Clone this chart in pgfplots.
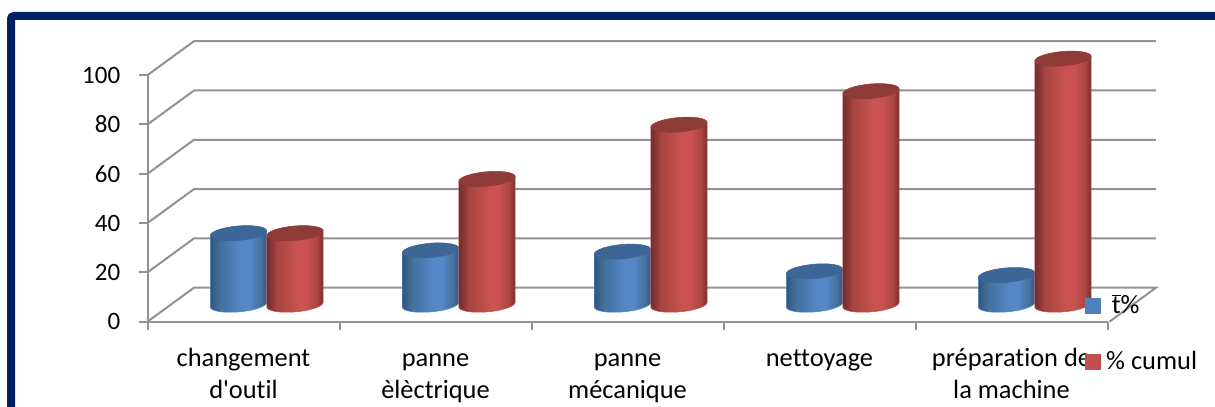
\documentclass[border=0pt]{standalone}
\usepackage{fontspec}
\setmainfont[Ligatures=NoCommon]{Carlito}
\usepackage{pgfplots}
\pgfplotsset{compat=1.18}

\definecolor{framenavy}{HTML}{002060}
\definecolor{axisgray}{HTML}{929292}
\definecolor{serieblue}{HTML}{4F81BD}
\definecolor{seriered}{HTML}{C0504D}
\definecolor{topblue}{HTML}{3D6595}
\definecolor{topred}{HTML}{8E3B39}
\definecolor{B1}{HTML}{5587C9}
\definecolor{B2}{HTML}{44709F}
\definecolor{B3}{HTML}{30567F}
\definecolor{R1}{HTML}{C95350}
\definecolor{R2}{HTML}{A8453F}
\definecolor{R3}{HTML}{722B2A}

\pgfdeclarehorizontalshading{cylblue}{100bp}{
  color(0bp)=(B3);color(25bp)=(B3);
  color(34bp)=(B2);color(52bp)=(B1);color(60bp)=(B1);
  color(70bp)=(B2);color(75bp)=(B3);color(100bp)=(B3)}
\pgfdeclarehorizontalshading{cylred}{100bp}{
  color(0bp)=(R3);color(25bp)=(R3);
  color(34bp)=(R2);color(52bp)=(R1);color(60bp)=(R1);
  color(70bp)=(R2);color(75bp)=(R3);color(100bp)=(R3)}

% One pixel of the 1215 x 407 canvas
\newcommand{\pxu}{0.75pt}
\newcommand{\unitpx}{2.465}% pixels per percentage point on the value axis
\newcommand{\labelfont}{\fontsize{19.8}{24}\selectfont}

% A tilted cylinder whose top is at the plotted point and whose height is the value
\newcommand{\declarecylinder}[4]{%
  \pgfdeclareplotmark{#1}{%
    \pgfmathsetmacro{\cylH}{\barval*\unitpx}%
    \begin{scope}[x=\pxu,y=\pxu]
      \shade[shading=#3]
        ({#2-28.19},-2.47) -- ({#2-28.19},{-2.47-\cylH})
        .. controls ({#2-27.85},{-6.43-\cylH}) and ({#2-14.94},{-8.53-\cylH}) .. ({#2+0.63},{-7.17-\cylH})
        .. controls ({#2+16.2},{-5.81-\cylH}) and ({#2+28.54},{-1.49-\cylH}) .. ({#2+28.19},{2.47-\cylH})
        -- ({#2+28.19},2.47) -- cycle;
      \fill[#4]
        ({#2-28.19},-2.47)
        .. controls ({#2-27.85},-6.43) and ({#2-14.94},-8.53) .. ({#2+0.63},-7.17)
        .. controls ({#2+16.2},-5.81) and ({#2+28.54},-1.49) .. ({#2+28.19},2.47)
        .. controls ({#2+27.85},6.43) and ({#2+14.94},8.53) .. ({#2-0.63},7.17)
        .. controls ({#2-16.2},5.81) and ({#2-28.54},1.49) .. cycle;
    \end{scope}}}
\declarecylinder{cylinderblue}{-28.25}{cylblue}{topblue}
\declarecylinder{cylinderred}{28.25}{cylred}{topred}

\begin{document}
\begin{tikzpicture}[x=\pxu,y=\pxu]
  \useasboundingbox (0,0) rectangle (1215,407);
  \fill[white] (0,0) rectangle (1215,407);
  \draw[framenavy,line width=8*\pxu,rounded corners=3*\pxu] (11,0) -- (11,391) -- (1215,391);

  % Front plane: value axis, category axis and the receding wall and floor lines
  \begin{axis}[
    at={(110.625pt,64pt)}, anchor=south west,
    scale only axis, width=960*\pxu, height=246.5*\pxu,
    xmin=0, xmax=5, ymin=0, ymax=100, clip=false,
    axis x line*=bottom, axis y line*=left,
    axis line style={axisgray,line width=2*\pxu,-},
    tick style={axisgray,line width=2*\pxu},
    tick align=outside, major tick length=8*\pxu,
    xtick={0,1,2,3,4,5}, xticklabels={},
    ytick={0,20,40,60,80,100},
    /pgf/number format/assume math mode=true,
    yticklabel style={font=\fontsize{18.75}{24}\selectfont,inner sep=0pt,xshift=-19*\pxu},
    extra x ticks={0.5,1.5,2.5,3.5,4.5},
    extra x tick labels={\strut changement\\d\textquotesingle outil,\strut panne\\èlèctrique,\strut panne\\mécanique,\strut nettoyage,\strut préparation de\\la machine},
    extra x tick style={
      major tick length=0pt,
      xticklabel style={font=\labelfont,align=center,anchor=north,
        inner sep=0pt,yshift=-22*\pxu}},
  ]
    \addplot[axisgray,line width=2*\pxu,unbounded coords=jump] coordinates {
      (0,0) (0.2422,13.79) (5.2526,13.79) (5.0104,0) (nan,nan)
      (0,20) (0.2422,33.79) (5.2526,33.79) (nan,nan)
      (0,40) (0.2422,53.79) (5.2526,53.79) (nan,nan)
      (0,60) (0.2422,73.79) (5.2526,73.79) (nan,nan)
      (0,80) (0.2422,93.79) (5.2526,93.79) (nan,nan)
      (0,100) (0.2422,113.79) (5.2526,113.79)
    };
  \end{axis}

  % Mid-depth plane: the two cylinder series and their legend
  \begin{axis}[
    at={(128.0625pt,76.75pt)}, anchor=south west,
    scale only axis, width=960*\pxu, height=246.5*\pxu,
    xmin=0, xmax=5, ymin=0, ymax=100, clip=false,
    axis lines=none,
    legend style={draw=none,fill=none,
      font=\labelfont,inner sep=0pt,
      at={(rel axis cs:0,0)},anchor=north west,xshift=914*\pxu,yshift=13*\pxu,
      row sep=30*\pxu},
    legend cell align=left,
    legend image code/.code={
      \fill[#1] (0,-7.5*\pxu) rectangle (15*\pxu,7.5*\pxu);},
  ]
    \addplot[only marks,scatter,scatter/use mapped color={},
      visualization depends on={rawy \as \barval},
      mark=cylinderblue,color=serieblue] coordinates {
      (0.5,29) (1.5,22) (2.5,21.5) (3.5,13.5) (4.5,12)};
    \addlegendentry{\hspace*{6.5pt}\(\overline{\mbox{t}}\)\%}
    \addplot[only marks,scatter,scatter/use mapped color={},
      visualization depends on={rawy \as \barval},
      mark=cylinderred,color=seriered] coordinates {
      (0.5,29) (1.5,51) (2.5,73) (3.5,86.6) (4.5,99.8)};
    \addlegendentry{\hspace*{2.25pt}\% cumul}
  \end{axis}
\end{tikzpicture}
\end{document}
